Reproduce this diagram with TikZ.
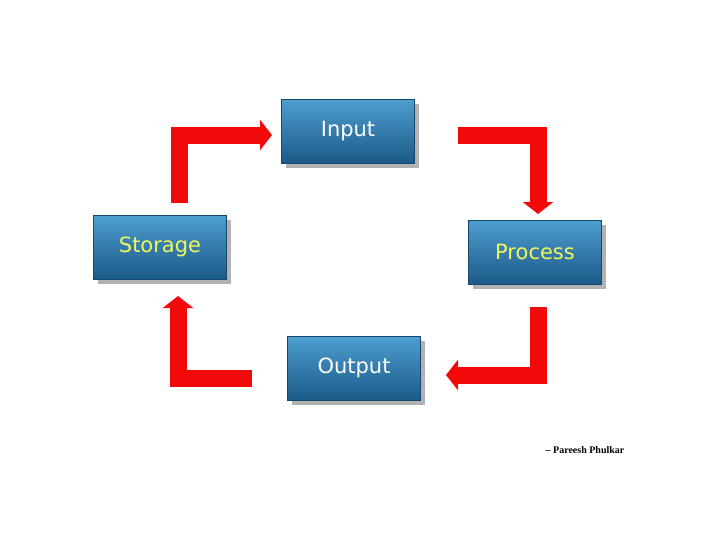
\documentclass[tikz,border=0pt]{standalone}
\usepackage{fontspec}
\setmainfont{DejaVu Sans}
\newfontfamily\sigfont{Liberation Serif}
\usetikzlibrary{arrows.meta,shadows}
\begin{document}
\begin{tikzpicture}[x=1pt,y=-1pt,
  box/.style={minimum width=133pt,minimum height=64pt,inner sep=0pt,
    top color=boxtop,bottom color=boxbot,draw=boxbot!80!black,line width=0.6pt,
    drop shadow={shadow xshift=4pt,shadow yshift=-5pt,fill=black!60,opacity=0.5},
    font=\fontsize{21}{24}\selectfont},
  arr/.style={draw=arrred,line width=17pt,line join=miter,
    -{Triangle[width=30pt,length=12pt]}}]
\definecolor{boxtop}{HTML}{4E9ED0}
\definecolor{boxbot}{HTML}{1B5A88}
\definecolor{arrred}{HTML}{F20A0A}
\definecolor{yel}{HTML}{F3F75A}
\useasboundingbox (0,0) rectangle (728,546);
\fill[white] (0,0) rectangle (728,546);
\node[box,text=white] (in) at (348,131) {Input};
\node[box,text=yel] (pr) at (535,252) {Process};
\node[box,text=white] (out) at (354,368) {Output};
\node[box,text=yel] (st) at (160,247) {Storage};
\coordinate (a1) at (179,203);
\coordinate (a2) at (272,135);
\draw[arr] (a1) |- (a2);
\coordinate (b1) at (458,135);
\coordinate (b2) at (538,214);
\draw[arr] (b1) -| (b2);
\coordinate (c1) at (538,307);
\coordinate (c2) at (446,375);
\draw[arr] (c1) |- (c2);
\coordinate (d1) at (252,378);
\coordinate (d2) at (178,296);
\draw[arr] (d1) -| (d2);
\node[font=\sigfont\fontsize{10}{11}\selectfont\bfseries] (sg) at (585,450) {– Pareesh Phulkar};
\end{tikzpicture}
\end{document}
